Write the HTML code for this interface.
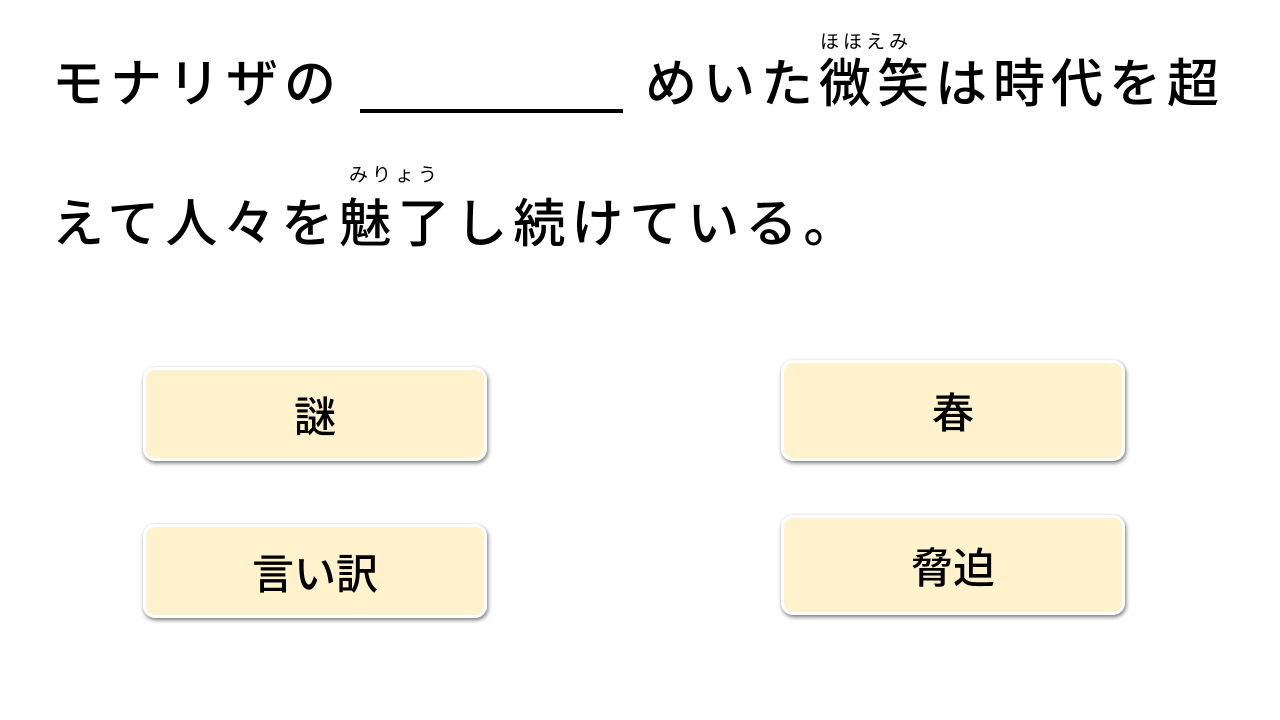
<!DOCTYPE html>
<html><head><meta charset="utf-8"><style>
body{margin:0;width:1280px;height:720px;background:#fff;position:relative;overflow:hidden;font-family:"Liberation Sans","Noto Sans CJK JP",sans-serif;color:#000}
.t{position:absolute;font-size:52px;letter-spacing:6px;line-height:1;white-space:nowrap;font-weight:500}
.r{position:absolute;font-size:19px;letter-spacing:4px;line-height:1;white-space:nowrap}
.u{position:absolute;left:360px;top:109px;width:263px;height:4px;background:#000}
.b{position:absolute;width:338px;height:88px;background:#fff2cc;border:3px solid #fff;border-radius:12px;box-shadow:1px 2px 4px rgba(0,0,0,.55);display:flex;align-items:center;justify-content:center;font-size:42px;font-weight:500}
</style></head><body>
<div class="t" style="left:52px;top:59px">モナリザの</div>
<div class="u"></div>
<div class="t" style="left:645px;top:59px">めいた微笑は時代を超</div>
<div class="r" style="left:820px;top:33px">ほほえみ</div>
<div class="t" style="left:52px;top:199px">えて人々を魅了し続けている。</div>
<div class="r" style="left:349px;top:166px">みりょう</div>
<div class="b" style="left:143px;top:367px">謎</div>
<div class="b" style="left:781px;top:360px;height:95px">春</div>
<div class="b" style="left:143px;top:524px">言い訳</div>
<div class="b" style="left:781px;top:515px;height:94px">脅迫</div>
</body></html>
